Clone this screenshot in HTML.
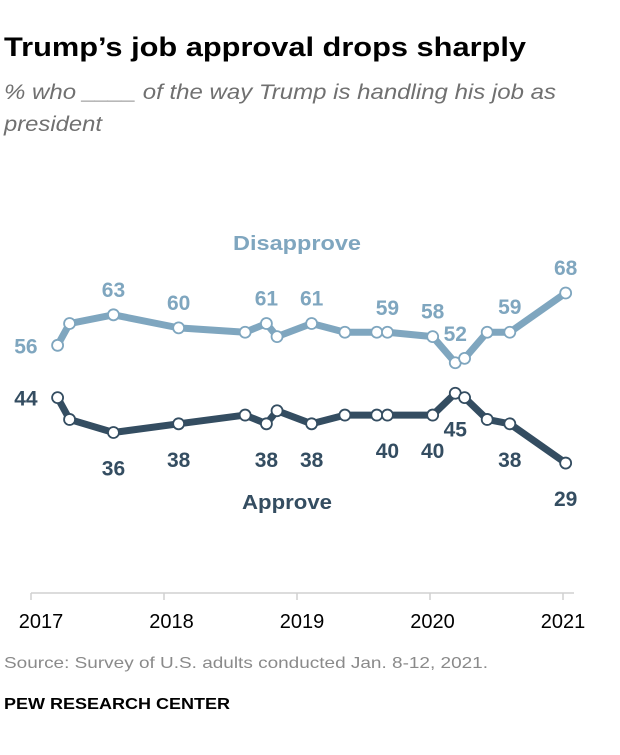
<!DOCTYPE html>
<html><head><meta charset="utf-8"><style>
body{margin:0;background:#fff;width:620px;height:750px;overflow:hidden;font-family:"Liberation Sans",sans-serif;}
</style></head><body>
<svg width="620" height="750" xmlns="http://www.w3.org/2000/svg">
<text x="4" y="56" font-size="27" font-weight="bold" fill="#000" textLength="522" lengthAdjust="spacingAndGlyphs">Trump’s job approval drops sharply</text>
<text font-size="21" font-style="italic" fill="#707070"><tspan x="4" y="99" textLength="552" lengthAdjust="spacingAndGlyphs">% who ____ of the way Trump is handling his job as</tspan><tspan x="4" y="131" textLength="98" lengthAdjust="spacingAndGlyphs">president</tspan></text>
<g id="axis"></g>
<g id="plot"></g>
<text x="297" y="250" text-anchor="middle" font-size="20" font-weight="bold" fill="#7fa6bf" textLength="128" lengthAdjust="spacingAndGlyphs">Disapprove</text>
<text x="287" y="509" text-anchor="middle" font-size="20" font-weight="bold" fill="#344d61" textLength="90" lengthAdjust="spacingAndGlyphs">Approve</text>
<text x="4" y="668" font-size="16" fill="#8a8a8a" textLength="484" lengthAdjust="spacingAndGlyphs">Source: Survey of U.S. adults conducted Jan. 8-12, 2021.</text>
<text x="4" y="709" font-size="15.5" font-weight="bold" fill="#000" textLength="226" lengthAdjust="spacingAndGlyphs">PEW RESEARCH CENTER</text>
</svg>
<script>
const dates=[2017.20,2017.29,2017.62,2018.11,2018.61,2018.77,2018.85,2019.11,2019.36,2019.60,2019.68,2020.02,2020.19,2020.26,2020.43,2020.60,2021.02];
const disapprove=[56,61,63,60,59,61,58,61,59,59,59,58,52,53,59,59,68];
const approve=[44,39,36,38,40,38,41,38,40,40,40,40,45,44,39,38,29];
const tickYears=[2017,2018,2019,2020,2021];
const disLabeled=[0,2,3,5,7,10,11,12,15,16];
const appLabeled=[0,2,3,5,7,10,11,12,15,16];
const NS="http://www.w3.org/2000/svg";
function xs(d){return 31+(d-2017)*133;}
function ys(v){return 293+(68-v)*4.36;}
function mk(tag,attrs,parent){const e=document.createElementNS(NS,tag);for(const k in attrs)e.setAttribute(k,attrs[k]);parent.appendChild(e);return e;}
const ax=document.getElementById('axis');
const line=mk('line',{x1:31,x2:574,y1:593,y2:593,stroke:'#d0d0d0','stroke-width':1.5},ax);


tickYears.forEach(t=>{
  const tk=mk('line',{x1:xs(t),x2:xs(t),y1:593,y2:600,stroke:'#d0d0d0','stroke-width':1.5},ax);
  
  
  const tx=mk('text',{x:xs(t)+(2021-t)*2.5,y:628,'text-anchor':'middle','font-size':20,fill:'#000'},ax);
  tx.textContent=t;
  
  
});
const plot=document.getElementById('plot');
function series(vals,color,name,labeled,above){
  const g=mk('g',{},plot);
  
  
  const p=mk('polyline',{points:vals.map((v,i)=>xs(dates[i])+','+ys(v)).join(' '),fill:'none',stroke:color,'stroke-width':7,'stroke-linejoin':'round'},g);
  
  
  vals.forEach((v,i)=>{
    const c=mk('circle',{cx:xs(dates[i]),cy:ys(v),r:5.5,fill:'#fff',stroke:color,'stroke-width':1.8},g);
    
    
  });
  labeled.forEach(i=>{
    let x=xs(dates[i]),y=ys(vals[i]),anchor='middle';
    if(i===0){x-=20;anchor='end';y+=8;}
    else if(i===12){y+=above?-22:43;}
    else if(i===10){y+=above?-17:43;}
    else{y+=above?-18:43;}
    const t=mk('text',{x:x,y:y,'text-anchor':anchor,'font-size':21,'font-weight':'bold',fill:color},g);
    t.textContent=vals[i];
    
    
  });
}
series(disapprove,'#7fa6bf','disapprove',disLabeled,true);
series(approve,'#344d61','approve',appLabeled,false);
</script>
</body></html>
